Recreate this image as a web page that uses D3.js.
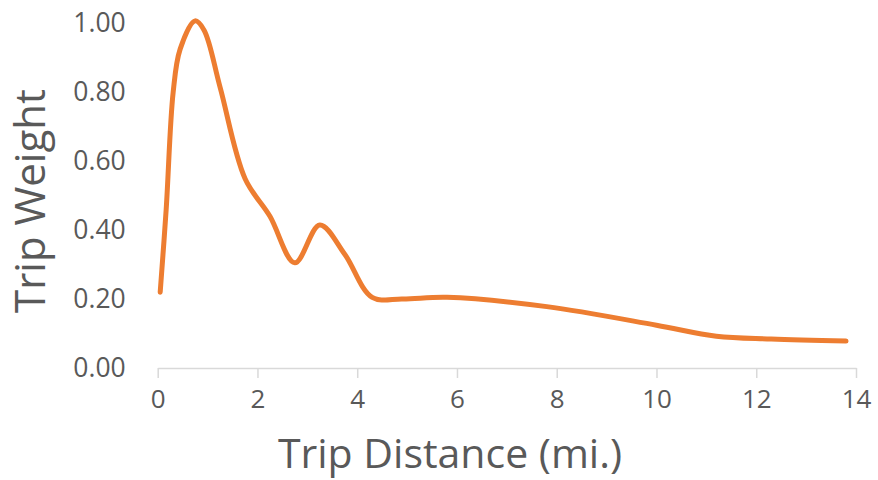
<!DOCTYPE html>
<html><head><meta charset="utf-8">
<script src="https://cdn.jsdelivr.net/npm/d3@7"></script>
<style>body{margin:0;background:#fff}svg{display:block}</style>
</head><body><svg id="c" width="878" height="480"></svg>
<script>
const distance = [0.05, 0.17, 0.31, 0.45, 0.75, 0.93, 1.25, 1.75, 2.25, 2.75, 3.25, 3.75, 4.3, 4.9, 5.8, 7.8, 10.0, 11.2, 12.3, 13.8];
const weight   = [0.22, 0.46, 0.80, 0.925, 1.007, 0.98, 0.815, 0.55, 0.44, 0.305, 0.415, 0.33, 0.205, 0.20, 0.205, 0.178, 0.124, 0.092, 0.084, 0.078];
const xTicks = [0, 2, 4, 6, 8, 10, 12, 14];
const yTicks = [0, 0.2, 0.4, 0.6, 0.8, 1.0];
const xTitle = "Trip Distance (mi.)";
const yTitle = "Trip Weight";

const svg = d3.select("#c");
const font = "'Open Sans', sans-serif";
const x = d3.scaleLinear().domain([0, 14]).range([157.7, 856]);
const y = d3.scaleLinear().domain([0, 1]).range([368, 23.3]);

// x axis
const xa = svg.append("g").attr("transform", `translate(0,${y(0)})`)
  .call(d3.axisBottom(x).tickValues(xTicks).tickSize(10).tickPadding(12).tickSizeOuter(0).tickFormat(d3.format("d")));
xa.select(".domain").attr("stroke", "#D9D9D9").attr("stroke-width", 1.5);
xa.selectAll(".tick line").attr("stroke", "#D9D9D9").attr("stroke-width", 1.5);
xa.selectAll(".tick text").attr("fill", "#595959").attr("font-family", font).attr("font-size", 26);

// y axis labels
const ya = svg.append("g").attr("transform", `translate(${x(0)},0)`)
  .call(d3.axisLeft(y).tickValues(yTicks).tickSize(0).tickPadding(32).tickFormat(d3.format(".2f")));
ya.select(".domain").remove();
ya.selectAll(".tick text").attr("fill", "#595959").attr("font-family", font).attr("font-size", 26.5);

// line
const pts = distance.map((d, i) => [d, weight[i]]);
svg.append("path").datum(pts)
  .attr("fill", "none").attr("stroke", "#ED7D31").attr("stroke-width", 5)
  .attr("stroke-linecap", "round").attr("stroke-linejoin", "round")
  .attr("d", d3.line().x(d => x(d[0])).y(d => y(d[1])).curve(d3.curveCatmullRom.alpha(0.5)));

// titles
svg.append("text").attr("x", 450).attr("y", 468).attr("text-anchor", "middle")
  .attr("fill", "#595959").attr("font-family", font).attr("font-size", 41).text(xTitle);
svg.append("text").attr("transform", "translate(45,201) rotate(-90)").attr("text-anchor", "middle")
  .attr("fill", "#595959").attr("font-family", font).attr("font-size", 42).text(yTitle);
</script></body></html>
